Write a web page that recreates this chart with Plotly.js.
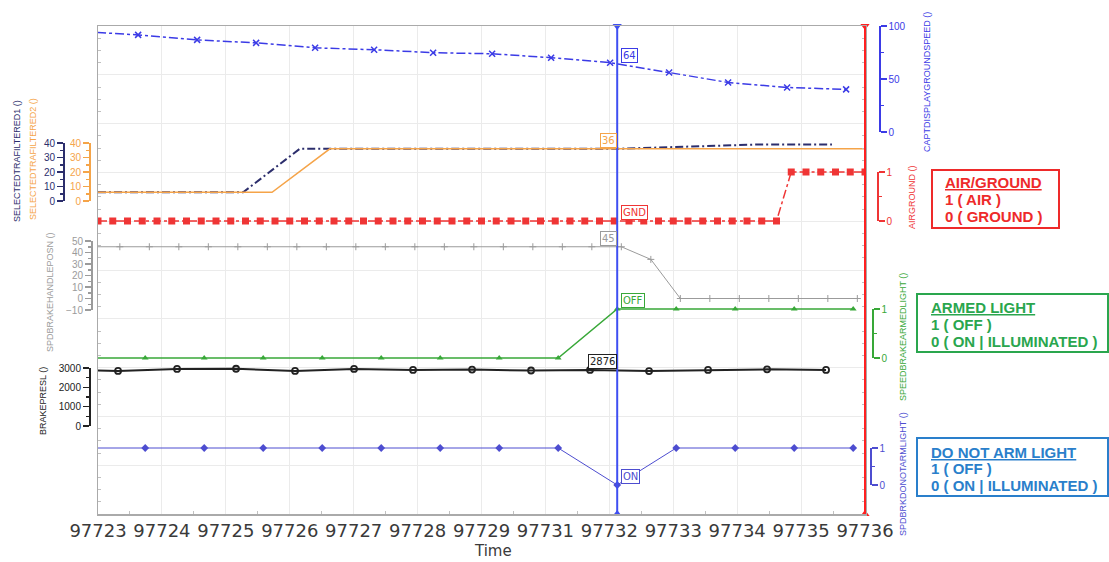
<!DOCTYPE html>
<html><head><meta charset="utf-8">
<script src="https://cdn.plot.ly/plotly-3.0.1.min.js"></script>
<style>html,body{margin:0;padding:0;background:#fff;} #chart{width:1109px;height:562px;}</style>
</head><body><div id="chart"></div>
<script>
// ---------------- DATA ----------------
const xRange = [97723, 97736];
const xTickText = ['97723','97724','97725','97726','97727','97728','97729','97731','97732','97733','97734','97735','97736'];
const cursorTime = 97731.8;

const gsTime  = [97722.68, 97723.68, 97724.68, 97725.68, 97726.68, 97727.68, 97728.68, 97729.68, 97730.68, 97731.68, 97732.68, 97733.68, 97734.68, 97735.68];
const gsValue = [95.0, 91.6, 86.9, 84.1, 79.4, 77.6, 74.8, 73.8, 70.1, 65.4, 56.1, 46.7, 42.0, 40.2];

const tra1Time  = [97723.0, 97725.46, 97726.42, 97731.8, 97734.2, 97735.44];
const tra1Value = [6, 6, 36, 36, 39, 39];

const tra2Time  = [97723.0, 97725.95, 97726.93, 97736.0];
const tra2Value = [6, 6, 36, 36];

const airTime = [
  97723.00, 97723.25, 97723.50, 97723.75, 97724.00, 97724.25, 97724.50, 97724.75,
  97725.00, 97725.25, 97725.50, 97725.75, 97726.00, 97726.25, 97726.50, 97726.75,
  97727.00, 97727.25, 97727.50, 97727.75, 97728.00, 97728.25, 97728.50, 97728.75,
  97729.00, 97729.25, 97729.50, 97729.75, 97730.00, 97730.25, 97730.50, 97730.75,
  97731.00, 97731.25, 97731.50, 97731.75, 97732.00, 97732.25, 97732.50, 97732.75,
  97733.00, 97733.25, 97733.50, 97733.75, 97734.00, 97734.25, 97734.50, 97734.75,
  97735.00, 97735.25, 97735.50, 97735.75, 97736.00];
const airValue = [
  0, 0, 0, 0, 0, 0, 0, 0,
  0, 0, 0, 0, 0, 0, 0, 0,
  0, 0, 0, 0, 0, 0, 0, 0,
  0, 0, 0, 0, 0, 0, 0, 0,
  0, 0, 0, 0, 0, 0, 0, 0,
  0, 0, 0, 0, 0, 0, 0, 1,
  1, 1, 1, 1, 1];

const spdTime = [
  97722.87, 97723.37, 97723.87, 97724.37, 97724.87, 97725.37, 97725.87, 97726.37, 97726.87,
  97727.37, 97727.87, 97728.37, 97728.87, 97729.37, 97729.87, 97730.37, 97730.87, 97731.37,
  97731.87, 97732.37, 97732.87, 97733.37, 97733.87, 97734.37, 97734.87, 97735.37, 97735.87];
const spdValue = [
  45, 45, 45, 45, 45, 45, 45, 45, 45,
  45, 45, 45, 45, 45, 45, 45, 45, 45,
  45, 34, 0, 0, 0, 0, 0, 0, 0];

const greenTime  = [97722.8, 97723.8, 97724.8, 97725.8, 97726.8, 97727.8, 97728.8, 97729.8, 97730.8, 97731.8, 97732.8, 97733.8, 97734.8, 97735.8];
const greenValue = [0, 0, 0, 0, 0, 0, 0, 0, 0, 1, 1, 1, 1, 1];

const brakeTime  = [97722.34, 97723.34, 97724.34, 97725.34, 97726.34, 97727.34, 97728.34, 97729.34, 97730.34, 97731.34, 97732.34, 97733.34, 97734.34, 97735.34];
const brakeValue = [2900, 2850, 2950, 2960, 2850, 2950, 2900, 2920, 2870, 2900, 2840, 2900, 2930, 2900];

const dnaTime  = [97722.8, 97723.8, 97724.8, 97725.8, 97726.8, 97727.8, 97728.8, 97729.8, 97730.8, 97731.8, 97732.8, 97733.8, 97734.8, 97735.8];
const dnaValue = [1, 1, 1, 1, 1, 1, 1, 1, 1, 0, 1, 1, 1, 1];

const seriesNames = ['CAPTDISPLAYGROUNDSPEED ()', 'SELECTEDTRAFILTERED1 ()', 'SELECTEDTRAFILTERED2 ()', 'AIRGROUND ()',
                     'SPDBRAKEHANDLEPOSN ()', 'SPEEDBRAKEARMEDLIGHT ()', 'BRAKEPRESL ()', 'SPDBRKDONOTARMLIGHT ()'];
const cursorLabels = ['64', '', '36', 'GND', '45', 'OFF', '2876', 'ON'];
const cursorValues = [64, null, 36, 0, 45, 1, 2876, 0];

const boxTitles = ['AIR/GROUND', 'ARMED LIGHT', 'DO NOT ARM LIGHT'];
const boxLine1  = ['1 ( AIR )', '1 ( OFF )', '1 ( OFF )'];
const boxLine2  = ['0 ( GROUND )', '0 ( ON | ILLUMINATED )', '0 ( ON | ILLUMINATED )'];

// ---------------- LAYOUT HELPERS ----------------
const W = 1109, H = 562;
const plotL = 98, plotR = 865, plotT = 26, plotB = 514;
const fx = px => px / W;
const fy = py => (plotB - py) / (plotB - plotT);

const xs = [gsTime, tra1Time, tra2Time, airTime, spdTime, greenTime, brakeTime, dnaTime];
const ys = [gsValue, tra1Value, tra2Value, airValue, spdValue, greenValue, brakeValue, dnaValue];

const S = [
  {color:'#3b3be6', range:[0,100], pxB:132, pxT:26, axisPx:879, side:'right', dtick:50, minor:25,
   line:{dash:'dashdot', width:1.5}, mode:'lines+markers', marker:{symbol:'x-thin', size:6, line:{width:1.5, color:'#3b3be6'}},
   titlePx:[927, 82], labAnchor:'left'},
  {color:'#2c2e6c', range:[0,40], pxB:201, pxT:143, axisPx:63, side:'left', dtick:10, minor:5,
   line:{dash:'8px,3px,2px,3px', width:2}, mode:'lines', marker:{},
   titlePx:[17, 161], labAnchor:null},
  {color:'#f5a449', range:[0,40], pxB:201, pxT:143, axisPx:89, side:'left', dtick:10, minor:5,
   line:{width:1.5}, mode:'lines', marker:{},
   titlePx:[33, 159], labAnchor:'right'},
  {color:'#ef3535', range:[0,1], pxB:221, pxT:172, axisPx:877, side:'right', dtick:1, minor:0.5,
   line:{dash:'dashdot', width:1.5}, mode:'lines+markers', marker:{symbol:'square', size:7},
   titlePx:[912, 197], labAnchor:'left'},
  {color:'#9b9b9b', range:[-10,50], pxB:310, pxT:241, axisPx:91, side:'left', dtick:10, minor:5,
   line:{width:1}, mode:'lines+markers', marker:{symbol:'cross-thin', size:5, line:{width:1, color:'#9b9b9b'}},
   titlePx:[50, 292], labAnchor:'right'},
  {color:'#38a838', range:[0,1], pxB:358, pxT:309, axisPx:872, side:'right', dtick:1, minor:0.5,
   line:{width:1.5}, mode:'lines+markers', marker:{symbol:'triangle-up', size:6},
   titlePx:[903, 337], labAnchor:'left'},
  {color:'#222222', range:[0,3000], pxB:426, pxT:368, axisPx:89, side:'left', dtick:1000, minor:500,
   line:{width:2}, mode:'lines+markers', marker:{symbol:'circle-open', size:6, line:{width:1.8, color:'#222'}},
   titlePx:[43, 401], labAnchor:'right'},
  {color:'#4d4dd0', range:[0,1], pxB:485, pxT:448, axisPx:870, side:'right', dtick:1, minor:0.5,
   line:{width:1}, mode:'lines+markers', marker:{symbol:'diamond', size:6},
   titlePx:[903, 474], labAnchor:'left'}
];

const xTickVals = xTickText.map((t, i) => xRange[0] + i * (xRange[1] - xRange[0]) / (xTickText.length - 1));
const xMinorVals = xTickVals.slice(0, -1).map((v, i) => (v + xTickVals[i + 1]) / 2);

const layout = {
  width: W, height: H,
  margin: {l:0, r:0, t:plotT, b:H - plotB, pad:0},
  paper_bgcolor:'#ffffff', plot_bgcolor:'rgba(0,0,0,0)',
  showlegend:false, hovermode:false,
  font:{family:'Liberation Sans, Arial, sans-serif'},
  xaxis:{
    domain:[fx(plotL), fx(plotR)], range:xRange, tickmode:'array', tickvals:xTickVals, ticktext:xTickText,
    showgrid:true, gridcolor:'#ebebeb', gridwidth:1, showline:true, linecolor:'#aaaaaa', linewidth:1.5, mirror:true,
    ticks:'', zeroline:false, fixedrange:true,
    tickfont:{family:'DejaVu Sans', size:18, color:'#3a3a3a'},
    minor:{tickmode:'array', tickvals:xMinorVals, ticks:'inside', ticklen:3, tickcolor:'#c0c0c0', showgrid:false}
  },
  xaxis2:{domain:[0.996, 1], range:[0, 1], visible:false, fixedrange:true},
  yaxis:{
    domain:[0, 1], range:[0, 10], dtick:1, showgrid:true, gridcolor:'#ebebeb', showticklabels:false,
    showline:true, linecolor:'#aaaaaa', linewidth:1.5, mirror:'allticks', zeroline:false, ticks:'', fixedrange:true,
    minor:{dtick:0.25, ticks:'inside', ticklen:3, tickcolor:'#c0c0c0', showgrid:false}
  },
  shapes:[], annotations:[]
};

const traces = [];
S.forEach((s, i) => {
  const n = 2 + i, m = 10 + i;
  const d0 = fy(s.pxB), d1 = fy(s.pxT);
  const k = (s.range[1] - s.range[0]) / (d1 - d0);
  layout['yaxis' + n] = {overlaying:'y', visible:false, fixedrange:true,
                         range:[s.range[0] - d0 * k, s.range[1] + (1 - d1) * k]};
  const eps = (s.range[1] - s.range[0]) * 1e-6;
  layout['yaxis' + m] = {
    domain:[d0, d1], range:[s.range[0] - eps, s.range[1] + eps], anchor:'free', position:fx(s.axisPx), side:s.side,
    showline:true, linecolor:s.color, linewidth:1.5, ticks:'outside', ticklen:6, tickwidth:1.5, tickcolor:s.color,
    tick0:0, dtick:s.dtick, showgrid:false, zeroline:false, fixedrange:true,
    tickfont:{size:10, color:s.color, family:'Liberation Sans, Arial'},
    minor:{dtick:s.minor, ticks:'outside', ticklen:3, tickcolor:s.color, showgrid:false}
  };
  traces.push({
    x: xs[i], y: ys[i], xaxis:'x', yaxis:'y' + n, type:'scatter', mode:s.mode,
    line:Object.assign({color:s.color}, s.line),
    marker:Object.assign({color:s.color}, s.marker),
    hoverinfo:'skip', showlegend:false
  });
  // dummy point so bracket axis is drawn
  traces.push({x:[0.5], y:[s.range[0]], xaxis:'x2', yaxis:'y' + m, mode:'markers',
               marker:{opacity:0, size:1}, hoverinfo:'skip', showlegend:false});
  // axis title
  layout.annotations.push({xref:'paper', yref:'paper', x:fx(s.titlePx[0]), y:fy(s.titlePx[1]),
    text:seriesNames[i], textangle:-90, showarrow:false, xanchor:'center', yanchor:'middle',
    font:{size:9, color:s.color, family:'Liberation Sans, Arial'}});
  // cursor label
  if (s.labAnchor) {
    layout.annotations.push({xref:'x', yref:'y' + n, x:cursorTime, y:cursorValues[i], text:cursorLabels[i],
      showarrow:false, xanchor:s.labAnchor, yanchor:'bottom', xshift: s.labAnchor === 'left' ? 4 : 0, yshift:1,
      font:{size:10, color:s.color, family:'DejaVu Sans'}, bgcolor:'#ffffff', bordercolor:s.color,
      borderwidth:1, borderpad:1});
  }
});

// cursor markers (main axis)
traces.push({x:[cursorTime, cursorTime], y:[10, 0], xaxis:'x', yaxis:'y', mode:'markers', cliponaxis:false,
  marker:{symbol:['triangle-down', 'triangle-up'], size:8, color:'#3f4ff2'}, hoverinfo:'skip', showlegend:false});
traces.push({x:[xRange[1], xRange[1]], y:[10, 0], xaxis:'x', yaxis:'y', mode:'markers', cliponaxis:false,
  marker:{symbol:['triangle-down', 'triangle-up'], size:8, color:'#ff2020'}, hoverinfo:'skip', showlegend:false});

layout.shapes.push({type:'line', xref:'x', yref:'paper', x0:cursorTime, x1:cursorTime, y0:0, y1:1,
  line:{color:'#3f4ff2', width:2}, layer:'above'});
layout.shapes.push({type:'line', xref:'paper', yref:'paper', x0:fx(plotR), x1:fx(plotR), y0:0, y1:1,
  line:{color:'#ff2020', width:2}, layer:'above'});

// legend-like info boxes
const boxes = [
  {color:'#ee2a2a', x0:932, x1:1059, y0:170, y1:228, tx:943, lines:[182, 199, 216]},
  {color:'#2aa64e', x0:917, x1:1108, y0:294, y1:352, tx:929, lines:[307, 324, 341]},
  {color:'#2a7fcb', x0:917, x1:1108, y0:438, y1:496, tx:929, lines:[452, 468, 485]}
];
boxes.forEach((b, i) => {
  layout.shapes.push({type:'rect', xref:'paper', yref:'paper', x0:fx(b.x0), x1:fx(b.x1), y0:fy(b.y1), y1:fy(b.y0),
    line:{color:b.color, width:2}, fillcolor:'rgba(0,0,0,0)'});
  const texts = ['<b><u>' + boxTitles[i] + '</u></b>', '<b>' + boxLine1[i] + '</b>', '<b>' + boxLine2[i] + '</b>'];
  texts.forEach((t, j) => {
    layout.annotations.push({xref:'paper', yref:'paper', x:fx(b.tx), y:fy(b.lines[j]), text:t, showarrow:false,
      xanchor:'left', yanchor:'middle', font:{size:15, color:b.color, family:'Liberation Sans, Arial'}});
  });
});

layout.annotations.push({xref:'paper', yref:'paper', x:fx(493), y:fy(551), text:'Time', showarrow:false,
  xanchor:'center', yanchor:'middle', font:{size:15, color:'#3a3a3a', family:'DejaVu Sans'}});

Plotly.newPlot('chart', traces, layout, {displayModeBar:false, staticPlot:true});
</script>
</body></html>
